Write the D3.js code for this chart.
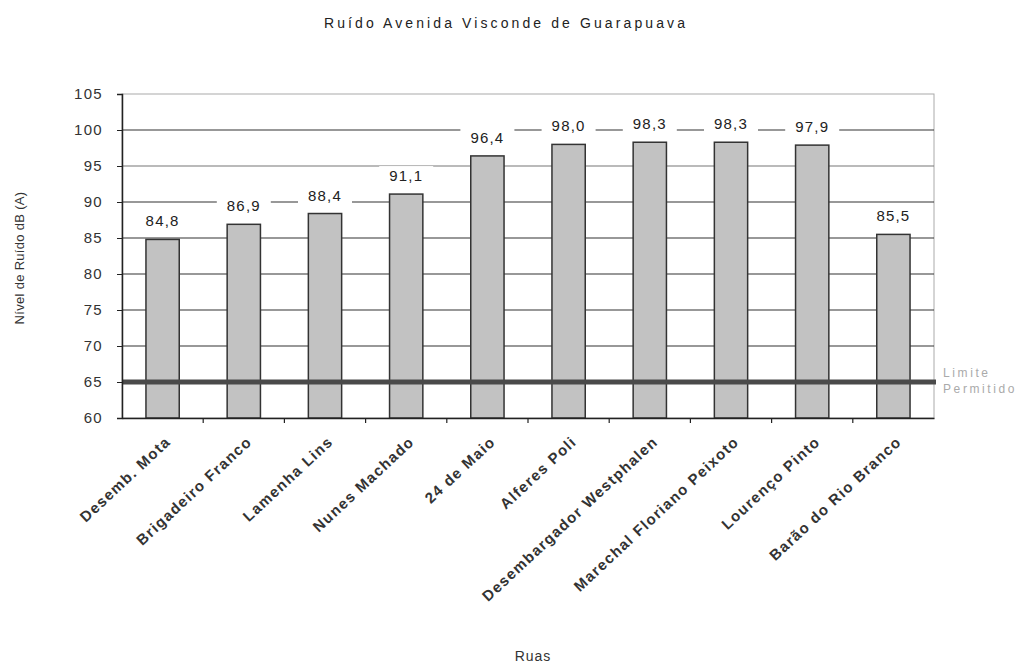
<!DOCTYPE html>
<html>
<head>
<meta charset="utf-8">
<script src="https://cdn.jsdelivr.net/npm/d3@7"></script>
<style>
  body { margin: 0; background: #fff; }
  text { font-family: "Liberation Sans", Arial, sans-serif; }
</style>
</head>
<body>
<svg id="chart"></svg>
<script>
const w = 1023, h = 663;
const margins = { top: 94, right: 89, bottom: 245, left: 122 };

// data
const ruas = ['Desemb. Mota', 'Brigadeiro Franco', 'Lamenha Lins', 'Nunes Machado', '24 de Maio',
  'Alferes Poli', 'Desembargador Westphalen', 'Marechal Floriano Peixoto', 'Lourenço Pinto', 'Barão do Rio Branco'];
const ruido = [84.8, 86.9, 88.4, 91.1, 96.4, 98.0, 98.3, 98.3, 97.9, 85.5];
const yTicks = [60, 65, 70, 75, 80, 85, 90, 95, 100, 105];
const limite = 65;

const svg = d3.select('#chart')
  .attr('width', w)
  .attr('height', h);

const xScale = d3.scaleBand()
  .domain(ruas)
  .range([margins.left, w - margins.right])
  .paddingInner(0.59)
  .paddingOuter(0.295);

const xBand = d3.scaleBand()
  .domain(ruas)
  .range([margins.left, w - margins.right]);

const yScale = d3.scaleLinear()
  .domain([60, 105])
  .range([h - margins.bottom, margins.top]);

// plot border (light)
svg.append('rect')
  .attr('x', margins.left)
  .attr('y', margins.top)
  .attr('width', w - margins.right - margins.left)
  .attr('height', yScale(60) - margins.top)
  .style('fill', 'none')
  .style('stroke', '#aaa');

// gridlines
svg.append('g')
  .selectAll('line')
  .data(yTicks.filter(d => d > 60 && d < 105))
  .join('line')
  .attr('x1', margins.left)
  .attr('x2', w - margins.right)
  .attr('y1', d => yScale(d))
  .attr('y2', d => yScale(d))
  .style('stroke', d => d == 95 ? '#777' : '#333')
  .style('stroke-width', 1.2);

// bars
svg.append('g')
  .selectAll('rect')
  .data(ruido)
  .join('rect')
  .attr('x', (d, i) => xScale(ruas[i]))
  .attr('y', d => yScale(d))
  .attr('width', xScale.bandwidth())
  .attr('height', d => yScale(60) - yScale(d))
  .style('fill', '#c2c2c2')
  .style('stroke', '#333')
  .style('stroke-width', 1.5);

// limit line
svg.append('line')
  .attr('x1', margins.left)
  .attr('x2', w - margins.right + 2)
  .attr('y1', yScale(limite))
  .attr('y2', yScale(limite))
  .style('stroke', '#4a4a4a')
  .style('stroke-width', 5);

svg.append('text')
  .attr('x', 943)
  .attr('y', yScale(limite) - 5)
  .style('font-size', '12px')
  .style('fill', '#aaa')
  .style('letter-spacing', '2.6px')
  .text('Limite');
svg.append('text')
  .attr('x', 943)
  .attr('y', yScale(limite) + 11)
  .style('font-size', '12px')
  .style('fill', '#aaa')
  .style('letter-spacing', '2.6px')
  .text('Permitido');

// value labels with white box
const labels = svg.append('g')
  .selectAll('g')
  .data(ruido)
  .join('g')
  .attr('transform', (d, i) => `translate(${xScale(ruas[i]) + xScale.bandwidth() / 2}, ${yScale(d) - 13})`);

labels.append('rect')
  .attr('x', -27)
  .attr('y', -15)
  .attr('width', 54)
  .attr('height', 19)
  .style('fill', '#fff');

labels.append('text')
  .attr('text-anchor', 'middle')
  .style('font-size', '15px')
  .style('letter-spacing', '1.2px')
  .style('fill', '#222')
  .text(d => d3.format('.1f')(d).replace('.', ','));

// y axis
const yAxisGroup = svg.append('g')
  .attr('transform', `translate(${margins.left}, 0)`)
  .call(d3.axisLeft(yScale).tickValues(yTicks).tickSize(5).tickPadding(14));
yAxisGroup.select('.domain').style('stroke', '#222').style('stroke-width', 1.5);
yAxisGroup.selectAll('.tick line').style('stroke', '#222');
yAxisGroup.selectAll('.tick text')
  .style('font-family', '"Liberation Sans", Arial, sans-serif')
  .style('font-size', '15px')
  .style('letter-spacing', '1.3px')
  .style('fill', '#333');

// x axis
const xAxisGroup = svg.append('g')
  .attr('transform', `translate(0, ${yScale(60)})`)
  .call(d3.axisBottom(xBand).tickSize(0).tickFormat(''));
xAxisGroup.select('.domain').style('stroke', '#222').style('stroke-width', 1.5);

// category boundary ticks
svg.append('g')
  .selectAll('line')
  .data(ruas.slice(1))
  .join('line')
  .attr('x1', d => xBand(d))
  .attr('x2', d => xBand(d))
  .attr('y1', yScale(60))
  .attr('y2', yScale(60) + 5)
  .style('stroke', '#222')
  .style('stroke-width', 1.2);

// rotated category labels
svg.append('g')
  .selectAll('text')
  .data(ruas)
  .join('text')
  .attr('transform', d => `translate(${xBand(d) + xBand.bandwidth() / 2 + 9}, ${yScale(60) + 25}) rotate(-43)`)
  .attr('text-anchor', 'end')
  .style('font-size', '15px')
  .style('font-weight', 'bold')
  .style('letter-spacing', '1.3px')
  .style('fill', '#333')
  .text(d => d);

// title
svg.append('text')
  .attr('x', 506)
  .attr('y', 28)
  .attr('text-anchor', 'middle')
  .style('font-size', '14px')
  .style('letter-spacing', '3.1px')
  .style('fill', '#222')
  .text('Ruído Avenida Visconde de Guarapuava');

// axis labels
svg.append('text')
  .attr('transform', `translate(${24}, ${258}) rotate(-90)`)
  .attr('text-anchor', 'middle')
  .style('font-size', '13px')
  .style('letter-spacing', '0.3px')
  .style('fill', '#333')
  .text('Nível de Ruído dB (A)');

svg.append('text')
  .attr('x', 533)
  .attr('y', 661)
  .attr('text-anchor', 'middle')
  .style('font-size', '14px')
  .style('letter-spacing', '1px')
  .style('fill', '#333')
  .text('Ruas');
</script>
</body>
</html>
